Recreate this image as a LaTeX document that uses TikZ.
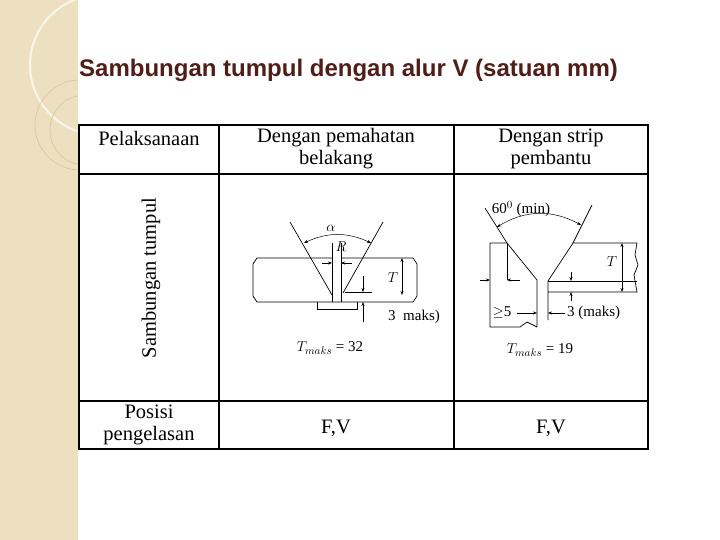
\documentclass[tikz,border=0pt]{standalone}
\usepackage{fontspec}
\setsansfont{Liberation Sans}
\setmainfont{Liberation Serif}
\usetikzlibrary{arrows.meta}
\definecolor{side}{RGB}{236,224,192}
\definecolor{title}{RGB}{80,30,25}
\begin{document}
\begin{tikzpicture}[x=1pt,y=-1pt,
  cell/.style={font=\fontsize{20.5}{22}\selectfont\rmfamily,align=center},
  lab/.style={font=\fontsize{15}{16}\selectfont\rmfamily,inner sep=0},
  dim/.style={line width=0.5pt,-{Stealth[length=4pt,width=3pt]}},
  dd/.style={line width=0.5pt,{Stealth[length=4pt,width=3pt]}-{Stealth[length=4pt,width=3pt]}},
  part/.style={line width=0.7pt}]
\useasboundingbox (0,0) rectangle (720,540);
\fill[side] (0,0) rectangle (78,540);
\begin{scope}
\clip (0,0) rectangle (78,540);
\draw[white,line width=2pt,opacity=0.7] (100,65) circle (70);
\draw[side!70!brown,line width=0.6pt] (80,125) circle (45);
\draw[side!70!brown,line width=0.6pt] (85,130) circle (35);
\end{scope}
\node[font=\sffamily\bfseries\fontsize{24}{28}\selectfont,text=title,anchor=west,inner sep=0] (t) at (79,70) {Sambungan tumpul dengan alur V (satuan mm)};
% table
\draw[line width=1.2pt] (79,125) rectangle (648,449);
\draw[line width=1.2pt] (79,174) -- (648,174) (79,401) -- (648,401) (219,125) -- (219,449) (454,125) -- (454,449);
\node[cell] (h1) at (149,138) {Pelaksanaan};
\node[cell] (h2) at (336,149) {Dengan pemahatan\\belakang};
\node[cell] (h3) at (551,149) {Dengan strip\\pembantu};
\node[cell,rotate=90] (v) at (151,278) {Sambungan tumpul};
\node[cell] (p) at (149,425) {Posisi\\pengelasan};
\node[cell] (f1) at (336,428) {F,V};
\node[cell] (f2) at (551,428) {F,V};
% left drawing
\draw[part] (257,258) -- (413,258) -- (417,264) -- (417,296) -- (413,302) -- (257,302) -- (253,296) -- (253,264) -- cycle;
\draw[part] (317,302) -- (317,309) -- (357,309) -- (357,302);
\fill[white] (332,240) rectangle (341,301);
\draw[part] (332,243) -- (332,302) (341,243) -- (341,302);
\draw[part] (290,222) -- (332,295) (383,222) -- (343,293);
\draw[dd] (304,243) to[bend left=25] (371,243);
\node[lab] (al) at (331,228) {$\alpha$};
\node[lab] (r) at (341,247) {$R$};
\draw[dim] (322,263) -- (332,263);
\draw[dim] (352,263) -- (341,263);
\draw[dd] (402,258) -- (402,295);
\node[lab] (tt) at (393,278) {$T$};
\draw[dim] (363,276) -- (363,292);
\draw[line width=0.5pt] (345,292) -- (372,292);
\draw[dim] (363,322) -- (363,302);
\node[lab,anchor=west] (m1) at (388,317) {3\enspace maks)};
\node[lab] (tm1) at (330,348) {$T_{maks}$ = 32};
% right drawing
\draw[part] (490,243) -- (507,243) -- (537,280) -- (537,327) (490,243) -- (490,327) -- (520,327) -- (527,322) -- (537,327);
\draw[part] (548,320) -- (548,281) -- (573,243) -- (637,243) -- (635,255) -- (638,265) -- (634,275) -- (637,292) -- (548,292);
\draw[line width=0.5pt] (548,281) -- (637,281);
\draw[part] (485,208) -- (507,243) (592,205) -- (573,243);
\draw[dd] (497,227) to[bend left=30] (581,225);
\node[lab] (s) at (521,209) {60$^0$ (min)};
\draw[line width=0.5pt] (507,243) -- (507,280);
\draw[dim] (520,280) -- (507,280);
\draw[dim] (480,280) -- (490,280);
\draw[dd] (622,243) -- (622,292);
\node[lab] (t2) at (612,262) {$T$};
\draw[dim] (571,272) -- (571,281);
\draw[dim] (571,301) -- (571,292);
\draw[dim] (517,313) -- (537,313);
\node[lab] (g5) at (502,313) {$\geq$5};
\draw[dim] (565,313) -- (548,313);
\node[lab,anchor=west] (m2) at (567,313) {3 (maks)};
\node[lab] (tm2) at (540,350) {$T_{maks}$ = 19};
\end{tikzpicture}
\end{document}
